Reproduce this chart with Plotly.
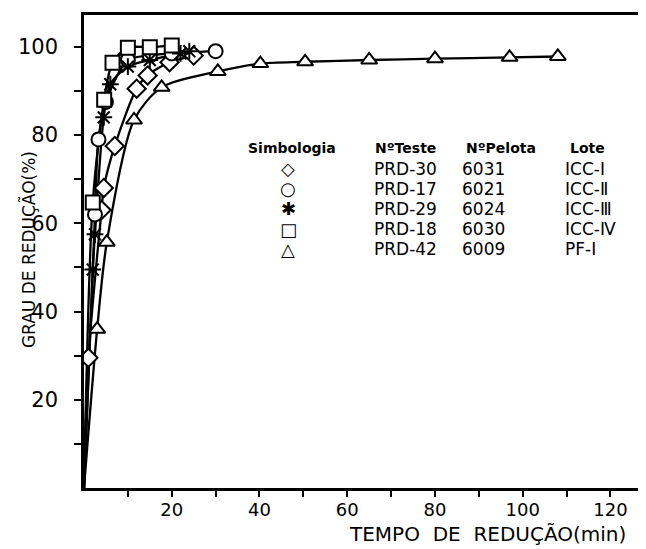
import plotly.graph_objects as go

## Data (time in min, degree of reduction in %)
t_prd30 = [1, 4, 4.5, 7, 12, 14.5, 19.5, 25]
g_prd30 = [29.5, 63, 68, 77.5, 90.5, 93.5, 96.5, 98]

t_prd17 = [2.5, 3.3, 5, 10, 15, 20, 30]
g_prd17 = [62, 79, 87.5, 97, 98, 98.5, 99]

t_prd29 = [2, 2.5, 4.5, 6, 10, 15, 22, 24]
g_prd29 = [49.5, 57.5, 84, 91.5, 95.5, 97, 98.5, 99]

t_prd18 = [2, 4.6, 6.5, 10, 15, 20]
g_prd18 = [64.7, 88, 96.4, 99.8, 99.9, 100.3]

t_prd42 = [3, 5.2, 11.4, 17.7, 30.5, 40.2, 50.4, 65, 80, 97, 108]
g_prd42 = [36, 55.7, 83.4, 90.8, 94.4, 96.2, 96.6, 97, 97.3, 97.6, 97.8]

symbols = ["diamond", "circle", "asterisk-open", "square", "triangle-up"]
fills = ["white", "white", "black", "white", "white"]
legend_glyphs = ["◇", "○", "✱", "□", "△"]
testes = ["PRD-30", "PRD-17", "PRD-29", "PRD-18", "PRD-42"]
pelotas = ["6031", "6021", "6024", "6030", "6009"]
lotes = ["ICC-Ⅰ", "ICC-Ⅱ", "ICC-Ⅲ", "ICC-Ⅳ", "PF-Ⅰ"]

x_ticks = list(range(10, 130, 10))
y_ticks = list(range(10, 110, 10))

series = [
    (t_prd30, g_prd30),
    (t_prd17, g_prd17),
    (t_prd29, g_prd29),
    (t_prd18, g_prd18),
    (t_prd42, g_prd42),
]

fig = go.Figure()

# curves start at the origin
for t, g in series:
    fig.add_trace(go.Scatter(
        x=[0] + t, y=[0] + g, mode="lines",
        line=dict(color="black", width=2.3, shape="spline", smoothing=0.8),
        showlegend=False, hoverinfo="skip"))

for (t, g), sym, fill in zip(series, symbols, fills):
    fig.add_trace(go.Scatter(
        x=t, y=g, mode="markers",
        marker=dict(symbol=sym, size=14, color=fill,
                    line=dict(color="black", width=2)),
        showlegend=False))

font = "DejaVu Sans"

## Legend table as text
head_x = [0.375, 0.579, 0.751, 0.908]
header = ["Simbologia", "NºTeste", "NºPelota", "Lote"]
for cx, h in zip(head_x, header):
    fig.add_annotation(x=cx, y=0.719, xref="paper", yref="paper", text="<b>" + h + "</b>",
                       showarrow=False, xanchor="center", yanchor="middle",
                       font=dict(family=font, size=14, color="black"))

for i in range(5):
    yy = 0.675 - i * 0.0425
    fig.add_annotation(x=0.368, y=yy, xref="paper", yref="paper", text=legend_glyphs[i],
                       showarrow=False, xanchor="center", yanchor="middle",
                       font=dict(family=font, size=18, color="black"))
    for cx, txt in zip([0.519, 0.678, 0.863], [testes[i], pelotas[i], lotes[i]]):
        fig.add_annotation(x=cx, y=yy, xref="paper", yref="paper", text=txt,
                           showarrow=False, xanchor="left", yanchor="middle",
                           font=dict(family=font, size=17, color="black"))

## Axis titles
fig.add_annotation(x=0.978, y=-0.124, xref="paper", yref="paper",
                   text="TEMPO  DE  REDUÇÃO(min)", showarrow=False,
                   xanchor="right", yanchor="bottom", borderpad=0,
                   font=dict(family=font, size=20, color="black"))
fig.add_annotation(x=-0.1, y=0.504, xref="paper", yref="paper",
                   text="GRAU DE REDUÇÃO(%)", showarrow=False, textangle=-90,
                   xanchor="center", yanchor="middle",
                   font=dict(family=font, size=17, color="black"))

# the page body has an 8 px margin, so the figure is 8 px smaller
fig.update_layout(
    width=638, height=541,
    margin=dict(l=76, r=6, t=4, b=61),
    plot_bgcolor="white", paper_bgcolor="white",
    font=dict(family=font, size=18, color="black"),
    xaxis=dict(
        range=[0, 126.5], tickvals=x_ticks,
        ticktext=[str(v) if v % 20 == 0 else "" for v in x_ticks],
        ticks="outside", ticklen=6, tickwidth=2, tickcolor="black",
        ticklabelstandoff=-2,
        showline=True, linewidth=2.5, linecolor="black", mirror=True,
        showgrid=False, zeroline=False,
    ),
    yaxis=dict(
        range=[0, 107.2], tickvals=y_ticks,
        ticktext=[str(v) if v % 20 == 0 else "" for v in y_ticks],
        ticks="outside", ticklen=7, tickwidth=2, tickcolor="black",
        ticklabelstandoff=12, tickfont=dict(size=21),
        showline=True, linewidth=2.5, linecolor="black", mirror=True,
        showgrid=False, zeroline=False,
    ),
)

fig.write_html("out.html")
